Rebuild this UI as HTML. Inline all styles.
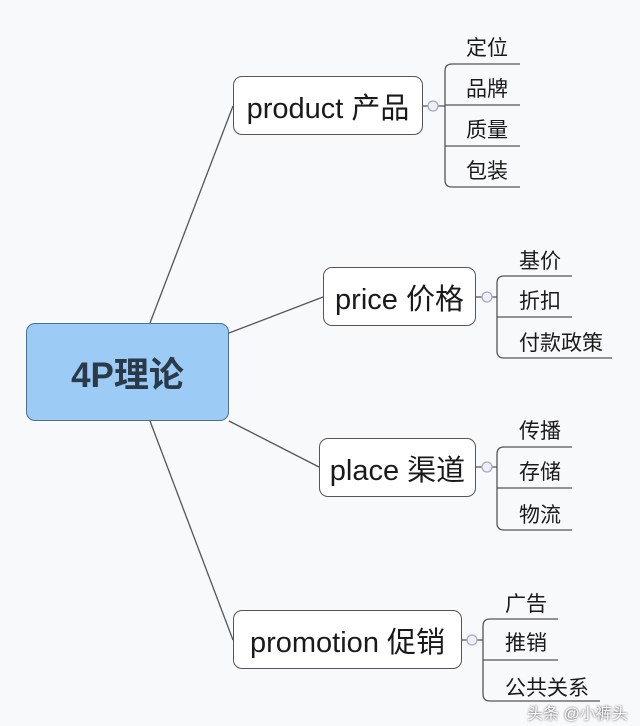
<!DOCTYPE html>
<html><head><meta charset="utf-8"><style>
body{margin:0;width:640px;height:726px;background:#f8f9fb;overflow:hidden;position:relative;font-family:"Liberation Sans","Noto Sans CJK SC",sans-serif;color:#1a1a1a}
.b{position:absolute;border:1.5px solid #555;border-radius:9px;background:#fff;box-sizing:border-box;display:flex;align-items:center;justify-content:center;font-size:29px;white-space:nowrap}
.l{position:absolute;font-size:21px;white-space:nowrap}
</style></head><body>
<svg width="640" height="726" style="position:absolute;left:0;top:0" fill="none" stroke="#555" stroke-width="1.3">
<path d="M150 323 L233 106"/><path d="M229 333 L323 297"/><path d="M229 421 L319 467"/><path d="M150 421 L233 640"/>
<path d="M423 106 H445"/><path d="M520 64 H452 Q445 64 445 71 V180 Q445 187 452 187 H520"/><path d="M445 105 H520 M445 146 H520"/>
<path d="M476 297 H497"/><path d="M572 276 H504 Q497 276 497 283 V351 Q497 358 504 358 H612 M497 317 H572"/>
<path d="M476 467 H497"/><path d="M572 447 H504 Q497 447 497 454 V523 Q497 530 504 530 H572 M497 488 H572"/>
<path d="M462 640 H483"/><path d="M558 619 H490 Q483 619 483 626 V694 Q483 701 490 701 H600 M483 660 H558"/>
<circle cx="433" cy="106" r="5" fill="#eef" stroke="#aab"/><circle cx="487" cy="297" r="5" fill="#eef" stroke="#aab"/><circle cx="487" cy="467" r="5" fill="#eef" stroke="#aab"/><circle cx="472" cy="640" r="5" fill="#eef" stroke="#aab"/>
</svg>
<div class="b" style="left:26px;top:323px;width:203px;height:98px;background:#9ccbf5;border-color:#4d7090;font-weight:bold;font-size:35px;color:#2b3a48">4P理论</div>
<div class="b" style="left:233px;top:76px;width:190px;height:59px">product 产品</div>
<div class="b" style="left:323px;top:267px;width:153px;height:59px">price 价格</div>
<div class="b" style="left:319px;top:438px;width:157px;height:59px">place 渠道</div>
<div class="b" style="left:233px;top:610px;width:229px;height:59px">promotion 促销</div>
<div class="l" style="left:466px;top:32px">定位</div><div class="l" style="left:466px;top:73px">品牌</div><div class="l" style="left:466px;top:114px">质量</div><div class="l" style="left:466px;top:155px">包装</div>
<div class="l" style="left:519px;top:245px">基价</div><div class="l" style="left:519px;top:285px">折扣</div><div class="l" style="left:519px;top:327px">付款政策</div>
<div class="l" style="left:519px;top:415px">传播</div><div class="l" style="left:519px;top:456px">存储</div><div class="l" style="left:519px;top:499px">物流</div>
<div class="l" style="left:505px;top:588px">广告</div><div class="l" style="left:505px;top:627px">推销</div><div class="l" style="left:505px;top:672px">公共关系</div>
<div class="l" style="left:527px;top:700px;font-size:16px;color:#fff;text-shadow:0 0 2px #333">头条 @小裤头</div>
</body></html>
